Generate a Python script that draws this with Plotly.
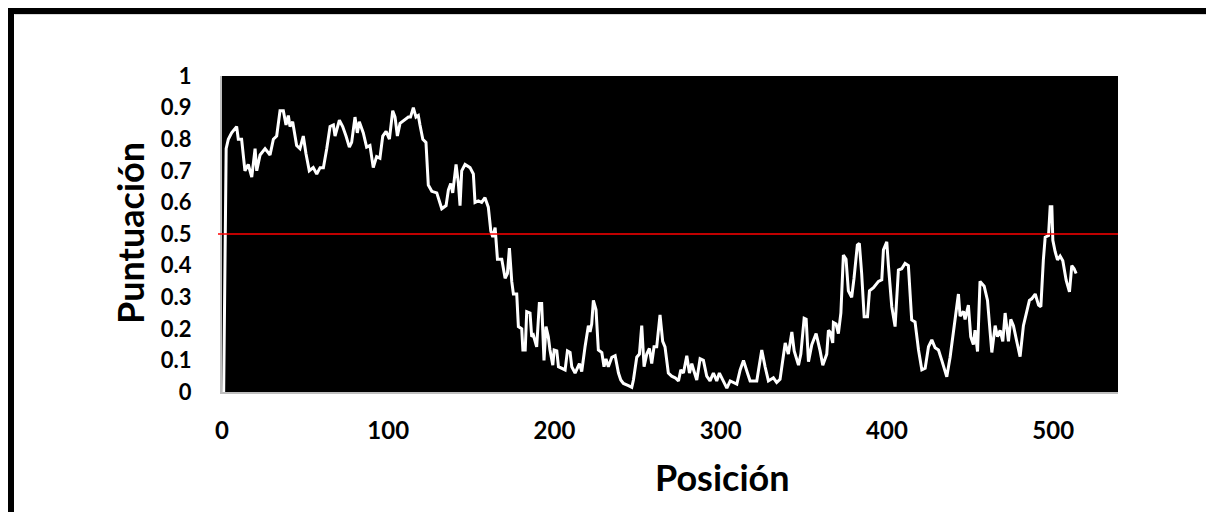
import plotly.graph_objects as go

# ---- data: (position, score) ----
segment_1 = [
    (1, 0.0), (2.5, 0.77), (3.8, 0.80), (5.8, 0.82), (8.8, 0.84), (9.8, 0.80), (11.8, 0.80),
    (13.8, 0.70), (15.8, 0.72), (17.9, 0.68), (19.9, 0.77), (20.9, 0.70), (22.9, 0.75),
    (25.9, 0.77), (28.9, 0.75), (30.9, 0.80), (32.9, 0.81), (34.9, 0.89), (36.9, 0.89),
    (38.5, 0.845), (39.9, 0.875), (40.9, 0.84), (42.5, 0.855), (44.9, 0.78), (46.9, 0.77),
    (48.9, 0.81), (50.5, 0.755), (52.5, 0.70), (54.9, 0.71), (57, 0.69), (59, 0.71),
    (61, 0.71), (63, 0.77), (65, 0.84), (67, 0.845), (68, 0.81), (70.6, 0.86), (72.6, 0.84),
    (74.6, 0.81), (76.6, 0.775), (78, 0.79), (80, 0.87), (81.4, 0.82), (82.6, 0.855),
    (85, 0.82), (87, 0.775), (89, 0.78), (91, 0.71), (93, 0.745), (95, 0.74), (96.7, 0.81),
    (98.7, 0.825), (100.7, 0.80), (102.7, 0.89), (104.1, 0.87), (105.5, 0.81), (107.1, 0.85),
    (109.5, 0.86), (112.1, 0.87), (113.4, 0.87), (115.1, 0.90), (116.7, 0.87), (118.1, 0.875),
    (119.1, 0.845), (120.8, 0.80), (122.7, 0.79), (124.1, 0.655), (126.2, 0.635),
    (129.2, 0.63), (132.2, 0.58), (134.8, 0.59), (136.2, 0.64), (137.6, 0.66), (138.8, 0.63),
    (140.8, 0.72), (142.2, 0.66), (143.2, 0.59), (144.2, 0.70), (146.2, 0.72), (149.2, 0.71),
    (151.2, 0.69), (152.2, 0.60), (154.2, 0.605), (156.2, 0.60), (158.2, 0.615),
    (160.2, 0.585), (161.7, 0.51), (162.9, 0.49), (164.3, 0.52), (165.7, 0.42),
]
segment_2 = [
    (168.3, 0.42), (170.3, 0.36), (171.7, 0.375), (172.9, 0.455), (174.3, 0.35), (175.3, 0.31),
    (177.3, 0.31), (178.3, 0.207), (180.3, 0.20), (181, 0.133), (182.4, 0.133), (183.3, 0.254),
    (185.3, 0.25), (186.3, 0.175), (187.3, 0.18), (189.3, 0.143), (190.9, 0.28), (192.3, 0.28),
    (193.7, 0.10), (194.9, 0.207), (196.3, 0.175), (197.3, 0.133), (199, 0.085), (199.8, 0.133),
    (201.4, 0.13), (202.4, 0.08), (204.4, 0.075), (206.4, 0.07), (207.8, 0.13), (209.4, 0.125),
    (210.4, 0.08), (212.4, 0.06), (215, 0.09), (216.4, 0.065), (218.4, 0.143), (220.4, 0.21),
    (221.4, 0.19), (222.4, 0.215), (223.4, 0.29), (225, 0.26), (226.4, 0.133), (228.5, 0.125),
    (229.8, 0.08), (231, 0.105), (232.4, 0.08), (234.5, 0.11), (236.5, 0.115), (238.5, 0.06),
    (239.9, 0.038), (241.5, 0.027), (244.5, 0.02), (246.5, 0.015), (247.5, 0.038), (249.5, 0.11),
    (251.1, 0.12), (252.5, 0.21), (253.9, 0.08), (255.5, 0.12), (257.1, 0.138), (258.5, 0.09),
    (259.9, 0.143), (261.5, 0.143), (263.5, 0.244), (265.1, 0.16), (266.5, 0.143), (268.5, 0.06),
    (270.5, 0.05), (272.6, 0.045), (274.6, 0.035), (276, 0.07), (277.6, 0.06), (279.6, 0.115),
    (281.2, 0.06), (282.6, 0.09), (284, 0.065), (285.6, 0.038), (287.6, 0.105), (289.6, 0.10),
    (291.6, 0.05), (293.6, 0.035), (295.6, 0.06), (297.6, 0.035), (299.2, 0.06), (301.2, 0.038),
    (303.7, 0.012), (305.7, 0.035), (307.7, 0.03), (309.7, 0.025), (311.7, 0.07), (313.7, 0.10),
    (316.1, 0.06), (317.7, 0.035), (321.7, 0.035), (324.7, 0.133), (326.7, 0.08), (328.7, 0.035),
    (331.7, 0.045), (333.7, 0.03), (335.7, 0.04),
]
segment_3 = [
    (338.8, 0.155), (340.7, 0.12), (342.8, 0.19), (344.2, 0.13), (346.8, 0.085), (348.2, 0.12),
    (350.2, 0.233), (351.4, 0.23), (352.8, 0.096), (354.8, 0.15), (357.4, 0.185), (359.8, 0.13),
    (361.4, 0.085), (363.8, 0.12), (364.8, 0.195), (365.8, 0.19), (367.4, 0.155), (367.8, 0.22),
    (369.4, 0.215), (370.8, 0.185), (372.3, 0.25), (373.8, 0.433), (375.4, 0.42), (376.8, 0.32),
    (378.8, 0.30), (380.2, 0.36), (382.2, 0.465), (383.4, 0.47), (384.8, 0.375), (386.3, 0.238),
    (388.3, 0.238), (389.5, 0.32), (391.9, 0.33), (394.9, 0.35), (396.9, 0.355), (397.9, 0.45),
    (399.9, 0.475), (400.9, 0.40), (402.9, 0.27), (404.9, 0.207), (406.9, 0.386), (408.9, 0.39),
    (410.9, 0.407), (412.9, 0.40), (414.9, 0.228), (416.9, 0.222), (419, 0.133), (421, 0.07),
    (423, 0.075), (425, 0.143), (427, 0.165), (429, 0.14), (431, 0.133), (433, 0.10),
    (436, 0.048), (438, 0.11), (440, 0.196), (442, 0.27), (443, 0.31), (444, 0.24), (446, 0.255),
    (447, 0.23), (449, 0.275), (450.4, 0.175), (452, 0.15), (453, 0.196), (454.5, 0.128),
    (456, 0.35), (458.5, 0.335), (460.5, 0.29), (461.7, 0.22), (463.1, 0.125), (465.1, 0.21),
    (466.5, 0.175), (468.1, 0.195), (469.7, 0.16), (471.1, 0.25), (473.1, 0.16), (474.5, 0.23),
    (476.1, 0.21), (478.1, 0.16), (480.1, 0.112), (482.1, 0.21), (484.1, 0.25), (485.7, 0.29),
    (487.1, 0.295), (489.2, 0.31), (491.2, 0.275), (492.6, 0.27), (494.1, 0.418), (495.2, 0.49),
    (497.2, 0.495), (498.2, 0.586), (499.2, 0.586), (499.8, 0.48), (501.2, 0.444), (502.6, 0.418),
    (504.2, 0.43), (505.8, 0.415), (507.8, 0.354), (509.8, 0.317), (511.2, 0.40), (512.6, 0.39),
    (513.8, 0.375),
]
threshold = 0.5
x_tick_values = [0, 100, 200, 300, 400, 500]
y_tick_values = [0, 0.1, 0.2, 0.3, 0.4, 0.5, 0.6, 0.7, 0.8, 0.9, 1]
y_tick_labels = ["0", "0.1", "0.2", "0.3", "0.4", "0.5", "0.6", "0.7", "0.8", "0.9", "1"]
x_title = "Posición"
y_title = "Puntuación"

points = segment_1 + segment_2 + segment_3
positions = [p for p, _ in points]
scores = [s for _, s in points]

FONT = "Lato"
W, H = 1206, 512
L, R, T, B = 222, 88, 76, 120
PW, PH = W - L - R, H - T - B


def px_to_paper_x(px):
    return (px - L) / PW


def py_to_paper_y(py):
    return (H - B - py) / PH


fig = go.Figure()
fig.add_trace(go.Scatter(
    x=positions, y=scores, mode="lines",
    line=dict(color="white", width=3), hoverinfo="skip", showlegend=False,
))

fig.update_layout(
    width=W, height=H,
    margin=dict(l=L, r=R, t=T, b=B, pad=0),
    paper_bgcolor="white", plot_bgcolor="black",
    font=dict(family=FONT, color="black"),
    showlegend=False,
    xaxis=dict(
        range=[0, 539], tickvals=x_tick_values, showgrid=False, zeroline=False,
        showline=True, linecolor="#bfbfbf", linewidth=2,
        ticks="outside", ticklen=16, tickcolor="rgba(0,0,0,0)",
        tickfont=dict(family=FONT, size=24, color="black", weight="bold"),
    ),
    yaxis=dict(
        range=[0, 1], tickvals=y_tick_values, ticktext=y_tick_labels,
        showgrid=False, zeroline=False,
        showline=True, linecolor="#bfbfbf", linewidth=2,
        ticks="outside", ticklen=24, tickcolor="rgba(0,0,0,0)",
        tickfont=dict(family=FONT, size=22, color="black", weight="bold"),
    ),
    annotations=[
        dict(text=x_title, xref="paper", yref="paper",
             x=px_to_paper_x(722), y=py_to_paper_y(477),
             xanchor="center", yanchor="middle", showarrow=False,
             font=dict(family=FONT, size=36, color="black", weight="bold")),
        dict(text=y_title, xref="paper", yref="paper", textangle=-90,
             x=px_to_paper_x(130), y=py_to_paper_y(233),
             xanchor="center", yanchor="middle", showarrow=False,
             font=dict(family=FONT, size=36, color="black", weight="bold")),
    ],
    shapes=[
        # threshold line
        dict(type="line", xref="paper", yref="y",
             x0=px_to_paper_x(218), x1=1, y0=threshold, y1=threshold,
             line=dict(color="#ff0000", width=1.5), layer="above"),
        # outer frame (left and top)
        dict(type="line", xref="paper", yref="paper",
             x0=px_to_paper_x(11), x1=px_to_paper_x(11),
             y0=py_to_paper_y(8), y1=py_to_paper_y(530),
             line=dict(color="black", width=6)),
        dict(type="line", xref="paper", yref="paper",
             x0=px_to_paper_x(8), x1=px_to_paper_x(1220),
             y0=py_to_paper_y(11), y1=py_to_paper_y(11),
             line=dict(color="black", width=6)),
        dict(type="line", xref="paper", yref="paper",
             x0=px_to_paper_x(14.5), x1=px_to_paper_x(1220),
             y0=py_to_paper_y(14.5), y1=py_to_paper_y(14.5),
             line=dict(color="#d9d9d9", width=1)),
    ],
)

fig.write_html(
    "out.html",
    config={"displayModeBar": False},
    post_script="document.body.style.margin='0';document.body.style.overflow='hidden';",
)
